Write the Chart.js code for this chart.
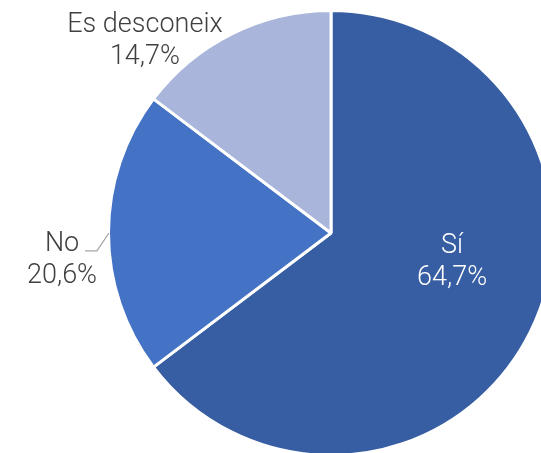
<!DOCTYPE html>
<html>
<head>
<meta charset="utf-8">
<script src="https://cdn.jsdelivr.net/npm/chart.js@4"></script>
<style>
	html, body { margin: 0; padding: 0; overflow: hidden; background: #fff; width: 541px; height: 453px; }
	.wrap { position: absolute; left: 0; top: 9px; width: 662px; height: 448px; }
</style>
</head>
<body>
<div class="wrap"><canvas id="myChart"></canvas></div>
<script>
const labels = ['Sí', 'No', 'Es desconeix'];
const values = [64.7, 20.6, 14.7];
const colors = ['#375EA2', '#4472C4', '#A9B5DA'];

// baseline of the first label line, in units of the radius, from the pie centre
const labelPos = [[0.548, 0.090], [-1.217, 0.081], [-0.842, -0.910]];
const labelColor = ['#ffffff', '#404040', '#404040'];

const fmt = (v) => v.toFixed(1).replace('.', ',') + '%';

const pieLabels = {
	id: 'pieLabels',
	afterDraw(chart) {
		const c = chart.ctx;
		const arcs = chart.getDatasetMeta(0).data;
		c.save();
		c.font = '300 27px Roboto, "Liberation Sans", sans-serif';
		c.textAlign = 'center';
		c.textBaseline = 'alphabetic';
		arcs.forEach((a, i) => {
			const r = a.outerRadius - 1.5;
			const x = a.x + labelPos[i][0] * r;
			const y = a.y + labelPos[i][1] * r;
			c.fillStyle = labelColor[i];
			c.fillText(labels[i], x, y);
			c.fillText(fmt(values[i]), x, y + 32);
		});
		// leader line for "No"
		const a = arcs[1];
		const r = a.outerRadius - 1.5;
		const mid = (a.startAngle + a.endAngle) / 2;
		const ex = a.x + Math.cos(mid) * r, ey = a.y + Math.sin(mid) * r;
		c.strokeStyle = '#a6a6a6';
		c.lineWidth = 1.3;
		c.beginPath();
		c.moveTo(a.x - 1.113 * r, ey + 0.081 * r);
		c.lineTo(a.x - 1.059 * r, ey + 0.081 * r);
		c.lineTo(ex - 1, ey);
		c.stroke();
		c.restore();
	}
};

const ctx = document.getElementById('myChart');

new Chart(ctx, {
	type: 'pie',
	data: {
		labels: labels,
		datasets: [{
			data: values,
			backgroundColor: colors,
			borderColor: '#ffffff',
			borderWidth: 3,
			hoverOffset: 0
		}]
	},
	options: {
		responsive: true,
		maintainAspectRatio: false,
		animation: false,
		events: [],
		layout: { padding: 0 },
		plugins: {
			legend: { display: false },
			tooltip: { enabled: false }
		}
	},
	plugins: [pieLabels]
});
</script>
</body>
</html>
